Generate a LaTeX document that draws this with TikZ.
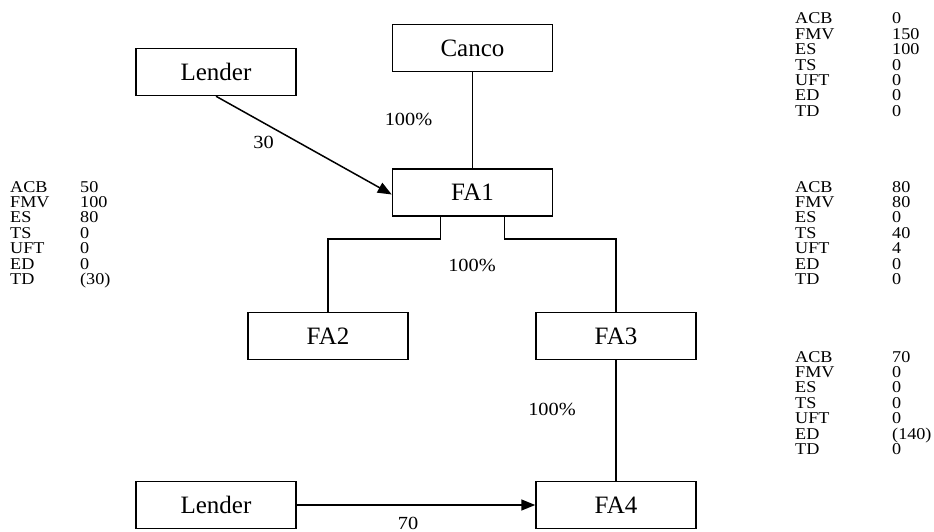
\documentclass[tikz,border=0pt]{standalone}
\usepackage{fontspec}
\setmainfont{Liberation Serif}
\newfontfamily\wideserif[FakeStretch=1.1]{Liberation Serif}
\usetikzlibrary{arrows.meta}
\begin{document}
\begin{tikzpicture}[x=1pt,y=-1pt,
  box/.style={draw, line width=1.5pt, minimum width=160pt, minimum height=47pt, inner sep=0pt, font=\fontsize{25}{25}\selectfont},
  lbl/.style={font=\wideserif\fontsize{18.5}{18.5}\selectfont, inner sep=0pt},
  tab/.style={font=\wideserif\fontsize{16.5}{16.5}\selectfont, inner sep=0pt, anchor=base west},
  conn/.style={line width=1.5pt},
  arr/.style={conn, -{Triangle[length=14pt,width=11pt]}}]
\useasboundingbox (0,0) rectangle (934,532);
\fill[white] (0,0) rectangle (934,532);
% boxes
\node[box] (l1) at (216,72) {Lender};
\node[box] (canco) at (472.5,48) {Canco};
\node[box] (fa1) at (472.5,192.5) {FA1};
\node[box] (fa2) at (328,336) {FA2};
\node[box] (fa3) at (616,336) {FA3};
\node[box] (l2) at (216,505) {Lender};
\node[box] (fa4) at (616,505) {FA4};
% connectors
\draw[conn] (canco) -- (fa1);
\draw[arr] (l1.south) -- ([yshift=-2pt]fa1.west);
\draw[conn] ([xshift=-32pt]fa1.south) -- ++(0,22) -| (fa2.north);
\draw[conn] ([xshift=32pt]fa1.south) -- ++(0,22) -| (fa3.north);
\draw[conn] (fa3) -- (fa4);
\draw[arr] (l2.east) -- (fa4.west);
% labels
\node[lbl] (p1) at (408.5,119.5) {100\%};
\node[lbl] (n30) at (263.5,142.5) {30};
\node[lbl] (p2) at (472,265) {100\%};
\node[lbl] (p3) at (552,409) {100\%};
\node[lbl, anchor=base] (n70) at (408,529) {70};
% tables
\foreach \lx/\vx/\y/\a/\b/\c/\d/\e/\f/\g in {
  10/80/192/50/100/80/0/0/0/(30),
  795/892/24/0/150/100/0/0/0/0,
  795/892/192/80/80/0/40/4/0/0,
  795/892/362/70/0/0/0/0/(140)/0}{
  \foreach \k/\t/\v in {0/ACB/\a,1/FMV/\b,2/ES/\c,3/TS/\d,4/UFT/\e,5/ED/\f,6/TD/\g}{
    \node[tab] at (\lx,\y+15.4*\k) {\t};
    \node[tab] at (\vx,\y+15.4*\k) {\v};
  }
}
\end{tikzpicture}
\end{document}
